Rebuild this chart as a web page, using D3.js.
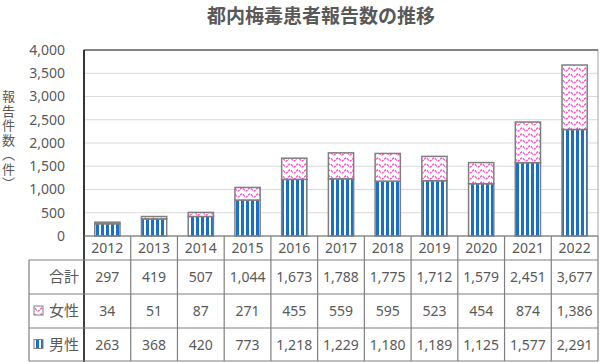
<!DOCTYPE html>
<html><head><meta charset="utf-8">
<script src="https://cdn.jsdelivr.net/npm/d3@7"></script>
<style>body{margin:0;background:#fff;}#wrap{position:relative;width:600px;height:362px;}svg{display:block;font-family:"Noto Sans","Noto Sans CJK JP",sans-serif;}
#ylab{position:absolute;left:1px;top:90px;width:15px;writing-mode:vertical-rl;font-family:"Noto Sans CJK JP",sans-serif;font-size:13px;color:#595959;letter-spacing:1.5px;line-height:15px;}</style>
</head><body><div id="wrap"><svg id="c" width="600" height="362"></svg><div id="ylab"></div></div>
<script>
const years = ["2012","2013","2014","2015","2016","2017","2018","2019","2020","2021","2022"];
const male = [263,368,420,773,1218,1229,1180,1189,1125,1577,2291];
const female = [34,51,87,271,455,559,595,523,454,874,1386];
const total = [297,419,507,1044,1673,1788,1775,1712,1579,2451,3677];
const yTicks = [0,500,1000,1500,2000,2500,3000,3500,4000];
const title = "都内梅毒患者報告数の推移";
const yLabel = "報告件数（件）";

const svg = d3.select("#c");
const L=84, R=598, T=50, B=236;
const x = d3.scaleBand().domain(years).range([L,R]).paddingInner(0.46).paddingOuter(0.23);
const xc = d3.scaleBand().domain(years).range([L,R]);
const y = d3.scaleLinear().domain([0,4000]).range([B,T]);
const fmt = d3.format(",");
const gray="#595959";
const cjk = "'Noto Sans CJK JP',sans-serif";

const defs = svg.append("defs");
const pm = defs.append("pattern").attr("id","pm").attr("patternUnits","userSpaceOnUse").attr("width",5).attr("height",5);
pm.append("rect").attr("width",5).attr("height",5).attr("fill","#fff");
pm.append("rect").attr("x",1).attr("width",3).attr("height",5).attr("fill","#1a70c8");
const pf = defs.append("pattern").attr("id","pf").attr("patternUnits","userSpaceOnUse").attr("width",8).attr("height",6);
pf.append("rect").attr("width",8).attr("height",6).attr("fill","#fff");
pf.append("path").attr("d","M0,3.5 Q2,0.5 4,3.5 T8,3.5").attr("fill","none").attr("stroke","#ff4fc4").attr("stroke-width",1.3).attr("stroke-dasharray","2.5,1");

svg.append("text").attr("x",321).attr("y",23).attr("text-anchor","middle").attr("font-size",19).attr("font-weight","bold").attr("fill",gray).attr("font-family",cjk).text(title);

// grid
svg.append("g").selectAll("line").data(yTicks.filter(d=>d>0)).join("line")
  .attr("x1",L).attr("x2",R).attr("y1",d=>y(d)).attr("y2",d=>y(d)).attr("stroke","#d9d9d9").attr("stroke-width",1);
svg.append("rect").attr("x",L).attr("y",T).attr("width",R-L).attr("height",B-T).attr("fill","none").attr("stroke","#a6a6a6");
svg.append("line").attr("x1",L).attr("x2",R).attr("y1",T).attr("y2",T).attr("stroke","#404040").attr("stroke-width",1.2);

// y axis
const ya = svg.append("g").attr("transform",`translate(${L},0)`).call(d3.axisLeft(y).tickValues(yTicks).tickFormat(fmt).tickSize(0).tickPadding(19));
ya.select(".domain").remove();
ya.selectAll("text").attr("font-size",14).attr("fill",gray).attr("font-family","'Noto Sans',sans-serif");
svg.append("line").attr("x1",L).attr("x2",L).attr("y1",T).attr("y2",362).attr("stroke","#000").attr("stroke-width",1.5);

// y label vertical
d3.select("#ylab").text(yLabel);

// bars
const g = svg.append("g");
years.forEach((yr,i)=>{
  g.append("rect").attr("x",x(yr)).attr("width",x.bandwidth()).attr("y",y(male[i])).attr("height",y(0)-y(male[i]))
   .attr("fill","url(#pm)").attr("stroke","#7f7f7f").attr("stroke-width",1.5);
  g.append("rect").attr("x",x(yr)).attr("width",x.bandwidth()).attr("y",y(male[i]+female[i])).attr("height",y(male[i])-y(male[i]+female[i]))
   .attr("fill","url(#pf)").attr("stroke","#7f7f7f").attr("stroke-width",1.5);
});

// table
const tb = svg.append("g").attr("stroke","#7f7f7f").attr("stroke-width",1.2);
const rowsY = [236,260,294,328,361];
tb.append("line").attr("x1",L).attr("x2",R).attr("y1",236).attr("y2",236);
[260,294,328,361].forEach(v=>tb.append("line").attr("x1",29).attr("x2",R).attr("y1",v).attr("y2",v));
years.forEach(yr=>tb.append("line").attr("x1",xc(yr)+xc.bandwidth()).attr("x2",xc(yr)+xc.bandwidth()).attr("y1",236).attr("y2",361));
tb.append("line").attr("x1",29).attr("x2",29).attr("y1",260).attr("y2",361);

svg.append("g").selectAll("text").data(years).join("text").attr("x",d=>xc(d)+xc.bandwidth()/2).attr("y",253)
  .attr("text-anchor","middle").attr("font-size",14).attr("fill",gray).text(d=>d);
const rows=[{lab:"合計",v:total,k:null},{lab:"女性",v:female,k:"pf"},{lab:"男性",v:male,k:"pm"}];
rows.forEach((r,j)=>{
  const cy=(rowsY[j+1]+rowsY[j+2])/2;
  svg.append("text").attr("x",79).attr("y",cy+5).attr("text-anchor","end").attr("font-size",15).attr("fill",gray).attr("font-family",cjk).text(r.lab);
  if(r.k){svg.append("rect").attr("x",34).attr("y",cy-5).attr("width",9).attr("height",9).attr("fill",`url(#${r.k})`).attr("stroke","#7f7f7f");}
  svg.append("g").selectAll("text").data(years).join("text").attr("x",d=>xc(d)+xc.bandwidth()/2).attr("y",cy+5)
    .attr("text-anchor","middle").attr("font-size",14).attr("fill",gray).text((d,i)=>fmt(r.v[i]));
});
</script></body></html>
